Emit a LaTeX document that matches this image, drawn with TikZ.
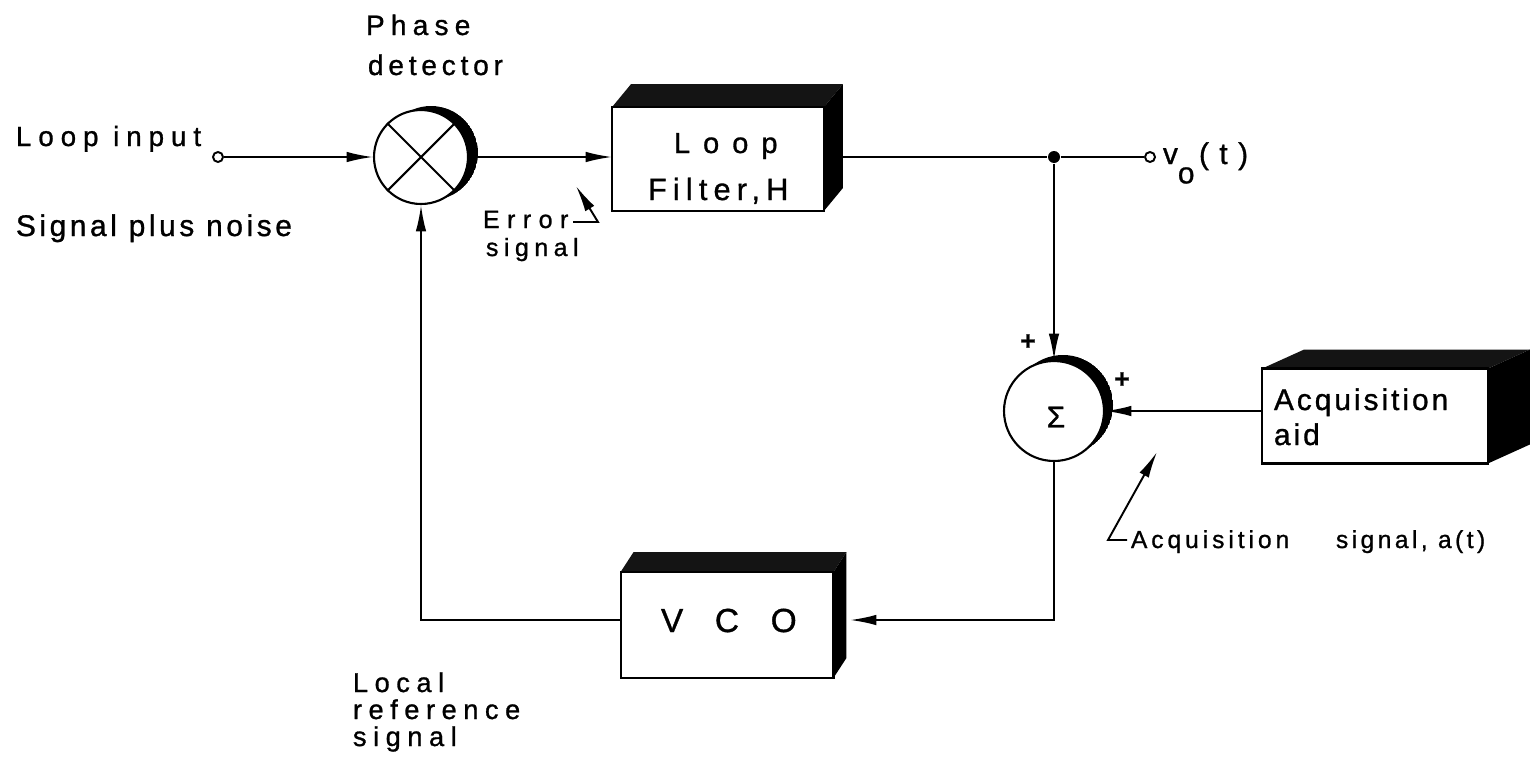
\documentclass[tikz,border=0pt]{standalone}
\usepackage{fontspec}
\setmainfont{Liberation Sans}[FakeBold=1]
\usetikzlibrary{arrows.meta,calc}
\newcommand\lsf[2]{\fontsize{#1}{#1}\selectfont\addfontfeature{LetterSpace=#2}}
\newcommand\shadebox[3]{%
  \fill[black!92] (#1.north west) -- ++(#2,#3) -- ($(#1.north east)+(#2,#3)$) -- (#1.north east) -- cycle;
  \fill[black] (#1.north east) -- ++(#2,#3) -- ($(#1.south east)+(#2,#3)$) -- (#1.south east) -- cycle;
  \draw[line width=1.2pt] (#1.north west) rectangle (#1.south east);}
\newcommand\crescent[4]{% center, radius(px), shift x, shift y
  \begin{scope}
    \clip ($#1+(#3,#4)$) circle[radius=#2];
    \fill[black,even odd rule] ($#1+(#3,#4)$) circle[radius=#2] #1 circle[radius=#2];
  \end{scope}}
\begin{document}
\begin{tikzpicture}[x=0.02cm,y=-0.02cm, line width=1.1pt,
  >={Latex[length=15pt,width=6pt]},
  box/.style={rectangle, fill=white, inner sep=0pt},
  summer/.style={circle, draw, fill=white, inner sep=0pt, line width=1.2pt},
  term/.style={circle, draw, fill=white, inner sep=0pt, minimum size=0.2cm, line width=1.1pt},
  lbl/.style={inner sep=0pt, anchor=base west}]
\useasboundingbox (0,0) rectangle (1534,758);

% crescents (drawn before circles)
\crescent{(421,157)}{47}{10}{-4}
\crescent{(1054,411)}{50}{9}{-6}

% nodes
\node[summer, minimum size=1.88cm] (pd) at (421,157) {};
\node[summer, minimum size=2cm] (sum) at (1054,411) {};
\node[box, minimum width=4.2cm, minimum height=2.04cm] (lf) at (718,159) {};
\node[box, minimum width=4.22cm, minimum height=2.08cm] (vco) at (727,625) {};
\node[box, minimum width=4.48cm, minimum height=1.86cm] (acq) at (1375,416) {};
\node[term] (inp) at (218,157) {};
\node[term] (out) at (1150,157) {};
\node[circle, fill, inner sep=0pt, minimum size=0.24cm] (dot) at (1054,157) {};
\coordinate (vcoR) at (850,620);
\coordinate (errA) at (573,222);
\coordinate (errB) at (598,222);
\coordinate (errT) at (576,186);
\coordinate (acsA) at (1127,540);
\coordinate (acsB) at (1108,540);
\coordinate (acsT) at (1157,452);

% connectors
\draw[->] (inp) -- (pd.west);
\draw[->] (pd.east) -- (pd.east -| lf.west);
\draw (lf.east |- dot) -- (dot) -- (out);
\draw[->] (dot) -- (sum.north);
\draw[->] (acq.west |- sum.east) -- (sum.east);
\draw[->] (sum.south) |- (vcoR);
\draw[->] (vco.west |- vcoR) -| (pd.south);
\draw[->] (errA) -- (errB) -- (errT);
\draw[->] (acsA) -- (acsB) -- (acsT);

% cross in phase detector
\draw[line width=1.2pt] (pd.45) -- (pd.225) (pd.135) -- (pd.-45);

% 3D boxes
\shadebox{lf}{19}{-23}
\shadebox{vco}{13}{-20}
\shadebox{acq}{42}{-19}

% texts inside
\node[inner sep=0pt, font=\lsf{17}{0}] (sig) at (1056,417) {Σ};
\node[lbl, font=\lsf{16.5}{45}] (lft1) at (673,153) {Loop};
\node[lbl, font=\lsf{17.5}{20}] (lft2) at (647,200) {Filter,H};
\node[lbl, font=\lsf{19}{0}] (vcot) at (660,632) {V\hspace{0.95em}C\hspace{0.95em}O};
\node[lbl, font=\lsf{17}{10}] (acq1) at (1273,410) {Acquisition};
\node[lbl, font=\lsf{17}{10}] (acq2) at (1273,445) {aid};

% labels
\node[lbl, font=\lsf{15.8}{25}] (l1) at (15,146) {Loop input};
\node[lbl, font=\lsf{17}{12}] (l2) at (15,236) {Signal plus noise};
\node[lbl, font=\lsf{16}{22}] (l3a) at (365,35) {Phase};
\node[lbl, font=\lsf{16}{17}] (l3b) at (367,75) {detector};
\node[lbl, font=\lsf{14.2}{30}] (l4a) at (482,228) {Error};
\node[lbl, font=\lsf{14.2}{22}] (l4b) at (485,256) {signal};
\node[lbl, font=\lsf{17}{0}] (l5) at (1162,164) {v\raisebox{-11pt}{o}\hspace{0.15em}(\hspace{0.35em}t\hspace{0.35em})};
\node[inner sep=0pt, font=\bfseries\lsf{15}{0}] (p1) at (1028,342) {+};
\node[inner sep=0pt, font=\bfseries\lsf{15}{0}] (p2) at (1122,380) {+};
\node[lbl, font=\lsf{14}{16}] (l6) at (1130,548) {Acquisition};
\node[lbl, font=\lsf{14}{14}] (l7) at (1335,548) {signal, a(t)};
\node[lbl, font=\lsf{15.5}{24}] (l8a) at (352,692) {Local};
\node[lbl, font=\lsf{15.5}{24}] (l8b) at (352,719) {reference};
\node[lbl, font=\lsf{15.5}{24}] (l8c) at (352,746) {signal};
\end{tikzpicture}
\end{document}
